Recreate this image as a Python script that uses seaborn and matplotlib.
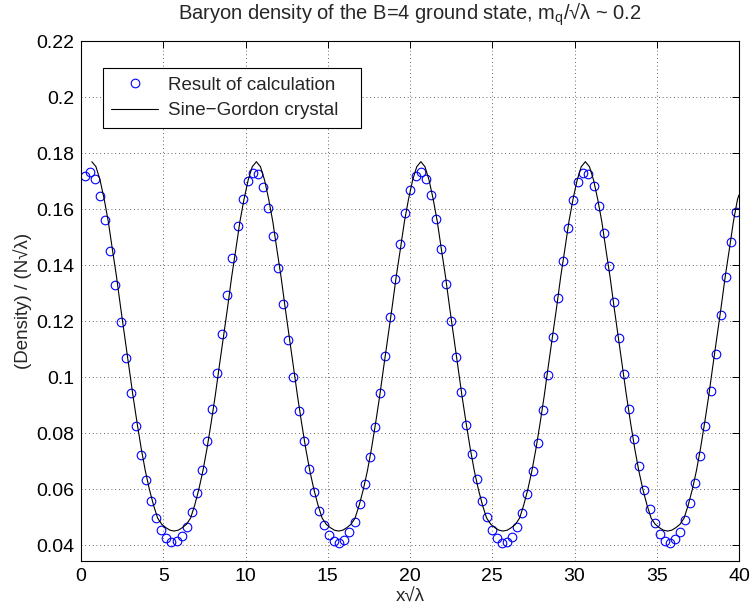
import numpy as np
import matplotlib
matplotlib.use("Agg")
import matplotlib.pyplot as plt
import seaborn as sns

# Computed baryon density on the lattice (one value per grid point)
x_step = 0.3092
x_first = 0.24
density_calc = [
    0.1719, 0.1731, 0.1707, 0.1648, 0.1561, 0.1451, 0.1329, 0.1196, 0.1067, 0.0942,
    0.0825, 0.0721, 0.0632, 0.0557, 0.0498, 0.0454, 0.0424, 0.0412, 0.0415, 0.0432,
    0.0466, 0.0517, 0.0585, 0.0668, 0.0771, 0.0886, 0.1015, 0.1152, 0.1292, 0.1424,
    0.1538, 0.1635, 0.1699, 0.1730, 0.1724, 0.1679, 0.1605, 0.1505, 0.1388, 0.1261,
    0.1132, 0.1001, 0.0880, 0.0770, 0.0673, 0.0590, 0.0523, 0.0471, 0.0437, 0.0414,
    0.0408, 0.0418, 0.0445, 0.0483, 0.0545, 0.0619, 0.0713, 0.0820, 0.0944, 0.1076,
    0.1215, 0.1351, 0.1476, 0.1586, 0.1668, 0.1719, 0.1731, 0.1707, 0.1650, 0.1563,
    0.1456, 0.1332, 0.1201, 0.1070, 0.0945, 0.0829, 0.0724, 0.0635, 0.0558, 0.0499,
    0.0454, 0.0426, 0.0408, 0.0410, 0.0429, 0.0463, 0.0513, 0.0581, 0.0663, 0.0764,
    0.0881, 0.1008, 0.1144, 0.1281, 0.1414, 0.1532, 0.1631, 0.1698, 0.1730, 0.1725,
    0.1683, 0.1612, 0.1513, 0.1396, 0.1269, 0.1140, 0.1010, 0.0887, 0.0777, 0.0681,
    0.0598, 0.0530, 0.0477, 0.0439, 0.0415, 0.0408, 0.0420, 0.0448, 0.0488, 0.0549,
    0.0623, 0.0718, 0.0826, 0.0949, 0.1082, 0.1220, 0.1357, 0.1481, 0.1590,
]
x_calc = x_first + x_step * np.arange(len(density_calc))

# Sine-Gordon crystal profile, sampled every 0.25 from its first maximum, plus the end point
sg_start = 0.66
sg_step = 0.25
density_sg = [
    0.1769, 0.1751, 0.1703, 0.1635, 0.1555, 0.1455, 0.1358, 0.1248, 0.1143, 0.1040,
    0.0933, 0.0836, 0.0745, 0.0665, 0.0598, 0.0542, 0.0496, 0.0474, 0.0462, 0.0453,
    0.0450, 0.0453, 0.0462, 0.0474, 0.0496, 0.0542, 0.0598, 0.0665, 0.0745, 0.0836,
    0.0933, 0.1040, 0.1143, 0.1248, 0.1358, 0.1455, 0.1555, 0.1635, 0.1703, 0.1751,
    0.1769, 0.1751, 0.1703, 0.1635, 0.1555, 0.1455, 0.1358, 0.1248, 0.1143, 0.1040,
    0.0933, 0.0836, 0.0745, 0.0665, 0.0598, 0.0542, 0.0496, 0.0474, 0.0462, 0.0453,
    0.0450, 0.0453, 0.0462, 0.0474, 0.0496, 0.0542, 0.0598, 0.0665, 0.0745, 0.0836,
    0.0933, 0.1040, 0.1143, 0.1248, 0.1358, 0.1455, 0.1555, 0.1635, 0.1703, 0.1751,
    0.1769, 0.1751, 0.1703, 0.1635, 0.1555, 0.1455, 0.1358, 0.1248, 0.1143, 0.1040,
    0.0933, 0.0836, 0.0745, 0.0665, 0.0598, 0.0542, 0.0496, 0.0474, 0.0462, 0.0453,
    0.0450, 0.0453, 0.0462, 0.0474, 0.0496, 0.0542, 0.0598, 0.0665, 0.0745, 0.0836,
    0.0933, 0.1040, 0.1143, 0.1248, 0.1358, 0.1455, 0.1555, 0.1635, 0.1703, 0.1751,
    0.1769, 0.1751, 0.1703, 0.1635, 0.1555, 0.1455, 0.1358, 0.1248, 0.1143, 0.1040,
    0.0933, 0.0836, 0.0745, 0.0665, 0.0598, 0.0542, 0.0496, 0.0474, 0.0462, 0.0453,
    0.0450, 0.0453, 0.0462, 0.0474, 0.0496, 0.0542, 0.0598, 0.0665, 0.0745, 0.0836,
    0.0933, 0.1040, 0.1143, 0.1248, 0.1358, 0.1455, 0.1555, 0.1635,
    0.1650,
]
x_sg = np.append(sg_start + sg_step * np.arange(len(density_sg) - 1), 40.0)

x_ticks = [0, 5, 10, 15, 20, 25, 30, 35, 40]
y_ticks = [0.04, 0.06, 0.08, 0.10, 0.12, 0.14, 0.16, 0.18, 0.20, 0.22]
y_tick_labels = ["0.04", "0.06", "0.08", "0.1", "0.12", "0.14", "0.16", "0.18", "0.2", "0.22"]

sns.set_style("white")
plt.rcParams["font.family"] = ["Liberation Sans", "DejaVu Sans"]
plt.rcParams["mathtext.fontset"] = "custom"
plt.rcParams["mathtext.rm"] = "Liberation Sans"

fig = plt.figure(figsize=(7.56, 6.16), dpi=100)
ax = fig.add_axes([81 / 756, 1 - 561 / 616, (739 - 81) / 756, (561 - 41) / 616])

sns.lineplot(x=x_calc, y=density_calc, ax=ax, errorbar=None, sort=False,
             linestyle="", marker="o", markersize=6.2, markerfacecolor="none",
             markeredgecolor="blue", markeredgewidth=0.8, color="blue",
             label="Result of calculation")
sns.lineplot(x=x_sg, y=density_sg, ax=ax, errorbar=None, sort=False,
             color="black", linewidth=0.8, label="Sine\u2212Gordon crystal")

ax.set_xlim(0, 40)
ax.set_ylim(0.0343, 0.22)
ax.set_xticks(x_ticks)
ax.set_yticks(y_ticks)
ax.set_yticklabels(y_tick_labels)

ax.grid(True, color="#333333", linestyle=(0, (1, 3.5)), linewidth=0.6)
ax.tick_params(direction="in", length=5, width=0.7, top=True, right=True,
               labelsize=14, pad=5, colors="black")
for s in ax.spines.values():
    s.set_color("black")
    s.set_linewidth(0.8)

ax.set_xlabel("x\u221a\u03bb", fontsize=13.5, labelpad=3)
ax.set_ylabel("(Density) / (N\u221a\u03bb)", fontsize=13.5, labelpad=3)
ax.set_title("Baryon density of the B=4 ground state, m$_\\mathregular{q}$/\u221a\u03bb ~ 0.2",
             fontsize=14.5, pad=15)

# Legend box spans a fixed region in the upper-left corner of the axes
leg = ax.legend(loc="upper left",
                bbox_to_anchor=(22 / 658, (561 - 130) / 520, (361 - 103) / 658, 62 / 520),
                mode="expand", borderaxespad=0, fontsize=13.5, frameon=True,
                fancybox=False, edgecolor="black", framealpha=1, handlelength=2.5,
                borderpad=0.45, labelspacing=0.45, handletextpad=0.5)
leg.get_frame().set_linewidth(0.8)

fig.savefig("out.png", dpi=100)
